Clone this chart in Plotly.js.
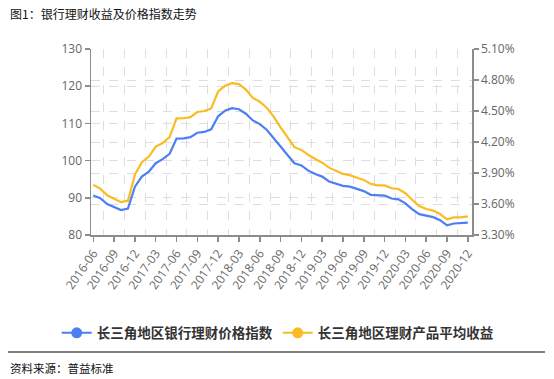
<!DOCTYPE html>
<html>
<head>
<meta charset="utf-8">
<script src="https://cdn.plot.ly/plotly-3.0.1.min.js"></script>
<style>
html,body{margin:0;padding:0;background:#fff;}
#chart{width:554px;height:379px;}
</style>
</head>
<body>
<div id="chart"></div>
<script>
var months = [
"2016-06","2016-07","2016-08","2016-09","2016-10","2016-11","2016-12",
"2017-01","2017-02","2017-03","2017-04","2017-05","2017-06","2017-07","2017-08","2017-09","2017-10","2017-11","2017-12",
"2018-01","2018-02","2018-03","2018-04","2018-05","2018-06","2018-07","2018-08","2018-09","2018-10","2018-11","2018-12",
"2019-01","2019-02","2019-03","2019-04","2019-05","2019-06","2019-07","2019-08","2019-09","2019-10","2019-11","2019-12",
"2020-01","2020-02","2020-03","2020-04","2020-05","2020-06","2020-07","2020-08","2020-09","2020-10","2020-11","2020-12"
];
var tickLabels = ["2016-06","2016-09","2016-12","2017-03","2017-06","2017-09","2017-12","2018-03","2018-06","2018-09","2018-12","2019-03","2019-06","2019-09","2019-12","2020-03","2020-06","2020-09","2020-12"];

var priceIndex = [90.6,89.9,88.3,87.5,86.7,87.1,93.0,95.7,97.0,99.3,100.4,101.8,105.9,106.0,106.3,107.5,107.7,108.4,111.9,113.4,114.1,113.8,112.6,110.8,109.8,108.3,106.2,103.8,101.5,99.3,98.7,97.3,96.4,95.7,94.4,93.7,93.2,93.0,92.3,91.8,90.8,90.6,90.6,89.8,89.6,88.5,86.9,85.6,85.1,84.8,84.0,82.6,83.1,83.1,83.3];

var avgYield = [3.785,3.749,3.685,3.652,3.618,3.632,3.885,4.004,4.057,4.156,4.19,4.248,4.428,4.43,4.44,4.49,4.50,4.525,4.689,4.744,4.77,4.76,4.708,4.627,4.59,4.532,4.445,4.342,4.25,4.15,4.124,4.075,4.036,4.0,3.952,3.92,3.891,3.878,3.855,3.833,3.794,3.781,3.78,3.752,3.745,3.704,3.639,3.581,3.552,3.536,3.503,3.452,3.471,3.471,3.481];

var seriesNames = ["长三角地区银行理财价格指数","长三角地区理财产品平均收益"];
var colors = ["#4D7EF2","#FBBB22"];

var xIdx = months.map(function(m,i){return i;});
var tickVals = tickLabels.map(function(t){return months.indexOf(t);});
var gridVals = tickVals.slice(0,-1).map(function(v){return v+1.5;});

var traces = [
  {x:xIdx, y:priceIndex, type:"scatter", mode:"lines", line:{color:colors[0], width:2.2}, yaxis:"y", showlegend:false, hoverinfo:"skip"},
  {x:xIdx, y:avgYield, type:"scatter", mode:"lines", line:{color:colors[1], width:2.2}, yaxis:"y2", showlegend:false, hoverinfo:"skip"},
  {x:[null], y:[null], type:"scatter", mode:"lines+markers", name:seriesNames[0], line:{color:colors[0], width:2}, marker:{color:colors[0], size:11}, yaxis:"y"},
  {x:[null], y:[null], type:"scatter", mode:"lines+markers", name:seriesNames[1], line:{color:colors[1], width:2}, marker:{color:colors[1], size:11}, yaxis:"y2"}
];

var axisColor = "#8c8c8c";
var gridColor = "#dedede";
var tickFont = {family:"Open Sans, sans-serif", size:12, color:"#666"};

var layout = {
  width:554, height:379,
  margin:{l:91, r:82, t:49, b:144},
  paper_bgcolor:"#fff", plot_bgcolor:"#fff",
  showlegend:true,
  legend:{orientation:"h", x:-0.09, xanchor:"left", y:-0.527, yanchor:"middle",
          font:{family:"Noto Sans CJK SC", size:13.5, color:"#333", weight:"bold"}, bgcolor:"rgba(0,0,0,0)"},
  xaxis:{
    range:[-0.33,54.6], tickmode:"array", tickvals:tickVals, ticktext:tickLabels,
    tickangle:-55, tickfont:tickFont, ticks:"outside", ticklen:5, tickcolor:axisColor, tickwidth:1.5,
    showline:true, linecolor:axisColor, linewidth:1.5, showgrid:false, zeroline:false,
    minor:{tickmode:"array", tickvals:gridVals, showgrid:true, gridcolor:gridColor, griddash:"dash", gridwidth:1, ticks:""}
  },
  yaxis:{
    range:[80,130], tick0:80, dtick:10, tickfont:tickFont, ticks:"outside", ticklen:5, tickcolor:axisColor, tickwidth:1.5,
    showline:true, linecolor:axisColor, linewidth:1.5, showgrid:true, gridcolor:gridColor, griddash:"dash", zeroline:false
  },
  yaxis2:{
    range:[3.3,5.1], tick0:3.3, dtick:0.3, tickformat:".2f", ticksuffix:"%", overlaying:"y", side:"right", anchor:"x",
    tickfont:tickFont, ticks:"outside", ticklen:5, tickcolor:axisColor, tickwidth:1.5,
    showline:true, linecolor:axisColor, linewidth:1.5, showgrid:true, gridcolor:gridColor, griddash:"dash", zeroline:false
  },
  annotations:[
    {text:"图1：银行理财收益及价格指数走势", xref:"paper", yref:"paper", x:(8-91)/381, y:(235-14)/186, xanchor:"left", yanchor:"middle", showarrow:false,
     font:{family:"Noto Sans CJK SC", size:12, color:"#111"}},
    {text:"资料来源：普益标准", xref:"paper", yref:"paper", x:(8-91)/381, y:(235-368)/186, xanchor:"left", yanchor:"middle", showarrow:false,
     font:{family:"Noto Sans CJK SC", size:11.5, color:"#111"}}
  ],
  shapes:[
    {type:"line", xref:"paper", yref:"paper", x0:(8-91)/381, x1:(545-91)/381, y0:(235-352)/186, y1:(235-352)/186, line:{color:"#000", width:1}}
  ]
};

Plotly.newPlot("chart", traces, layout, {staticPlot:true, displayModeBar:false});
</script>
</body>
</html>
